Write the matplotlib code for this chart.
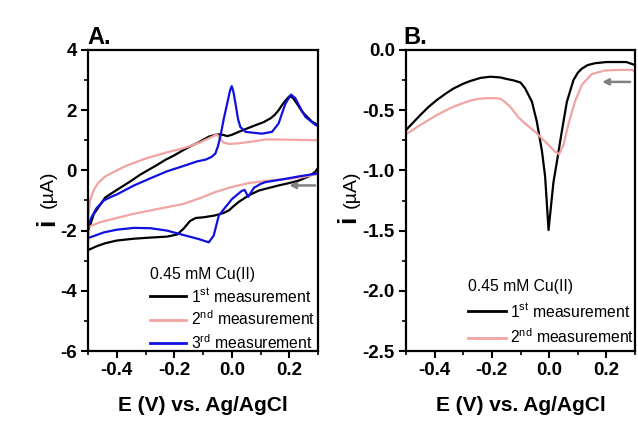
import matplotlib
matplotlib.use("Agg")
import matplotlib.pyplot as plt
from matplotlib.ticker import MultipleLocator

plt.rcParams['font.family'] = ['Liberation Sans', 'DejaVu Sans']
plt.rcParams['axes.unicode_minus'] = False
plt.rcParams['mathtext.fontset'] = 'custom'
plt.rcParams['mathtext.rm'] = 'Liberation Sans'

# ---------------- Panel A data (CV: cathodic branch 0.3 -> -0.5, then anodic -0.5 -> 0.3)
a1_x = [0.3, 0.29, 0.268, 0.233, 0.2, 0.163, 0.13, 0.094, 0.059, 0.04, 0.024, 0.005, -0.01, -0.03,
        -0.06, -0.1, -0.125, -0.145, -0.167, -0.19, -0.225, -0.28, -0.341, -0.4, -0.44, -0.47, -0.5,
        -0.5, -0.49, -0.48, -0.463, -0.44, -0.405, -0.375, -0.347, -0.32, -0.289, -0.26, -0.231, -0.2,
        -0.173, -0.145, -0.115, -0.08, -0.05,
        -0.03, -0.016, 0.0, 0.024, 0.05, 0.082, 0.11, 0.135, 0.15, 0.163, 0.175, 0.185, 0.2, 0.212,
        0.228, 0.245, 0.262, 0.279, 0.3]
a1_y = [0.08, -0.05, -0.2, -0.34, -0.42, -0.5, -0.58, -0.67, -0.83, -0.95, -1.05, -1.2, -1.33, -1.42,
        -1.5, -1.56, -1.58, -1.68, -1.93, -2.13, -2.2, -2.23, -2.27, -2.33, -2.42, -2.52, -2.65,
        -2.0, -1.75, -1.45, -1.22, -0.9, -0.68, -0.5, -0.33, -0.15, 0.02, 0.18, 0.35, 0.5,
        0.65, 0.8, 0.93, 1.12, 1.2,
        1.18, 1.14, 1.18, 1.28, 1.38, 1.5, 1.6, 1.73, 1.85, 2.0, 2.17, 2.3, 2.46, 2.42,
        2.2, 1.95, 1.78, 1.62, 1.5]

a2_x = [0.3, 0.25, 0.2, 0.15, 0.1, 0.06, 0.0, -0.057, -0.11, -0.167, -0.225, -0.283, -0.34, -0.4,
        -0.457, -0.487, -0.5,
        -0.5, -0.493, -0.48, -0.465, -0.44, -0.42, -0.4, -0.37, -0.34, -0.31, -0.28, -0.225, -0.167,
        -0.11, -0.068, -0.052, -0.04, -0.03, -0.01, 0.024, 0.08, 0.12, 0.2, 0.3]
a2_y = [-0.12, -0.22, -0.28, -0.32, -0.37, -0.42, -0.55, -0.72, -0.92, -1.11, -1.22, -1.33, -1.44, -1.58,
        -1.72, -1.83, -1.9,
        -1.6, -1.0, -0.65, -0.42, -0.2, -0.1, 0.0, 0.14, 0.25, 0.36, 0.45, 0.6, 0.74,
        0.93, 1.12, 1.2, 1.05, 0.93, 0.88, 0.9, 0.97, 1.03, 1.02, 1.0]

a3_x = [0.3, 0.233, 0.187, 0.117, 0.1, 0.077, 0.057, 0.045, 0.035, 0.02, 0.001, -0.022, -0.045, -0.063,
        -0.08, -0.115, -0.167, -0.225, -0.283, -0.341, -0.4, -0.445, -0.5,
        -0.5, -0.49, -0.47, -0.445, -0.42, -0.4, -0.37, -0.34, -0.28, -0.225, -0.167, -0.12, -0.09,
        -0.07, -0.057, -0.048, -0.04, -0.028, -0.016, -0.006, 0.0, 0.006, 0.013, 0.022, 0.03, 0.048,
        0.105, 0.14, 0.163, 0.175, 0.187, 0.206, 0.221, 0.24, 0.256, 0.29, 0.3]
a3_y = [-0.1, -0.2, -0.28, -0.39, -0.45, -0.58, -0.88, -0.65, -0.68, -0.8, -0.95, -1.22, -1.5, -2.17,
        -2.39, -2.28, -2.15, -2.0, -1.92, -1.91, -1.97, -2.06, -2.25,
        -1.9, -1.6, -1.25, -1.0, -0.88, -0.8, -0.65, -0.5, -0.25, -0.03, 0.15, 0.3, 0.36,
        0.45, 0.56, 0.8, 1.11, 1.7, 2.22, 2.65, 2.8, 2.6, 2.22, 1.7, 1.44, 1.28,
        1.22, 1.28, 1.56, 1.9, 2.22, 2.52, 2.4, 2.05, 1.78, 1.52, 1.47]

# ---------------- Panel B data
b1_x = [-0.5, -0.45, -0.42, -0.392, -0.36, -0.334, -0.3, -0.276, -0.24, -0.206, -0.17, -0.148, -0.125,
        -0.1, -0.084, -0.06, -0.043, -0.025, -0.014, -0.002, 0.015, 0.027, 0.044, 0.062, 0.085, 0.1,
        0.114, 0.135, 0.16, 0.2, 0.23, 0.27, 0.3]
b1_y = [-0.665, -0.54, -0.47, -0.415, -0.36, -0.32, -0.28, -0.258, -0.232, -0.222, -0.228, -0.241, -0.252,
        -0.27, -0.318, -0.43, -0.595, -0.84, -1.05, -1.495, -1.1, -0.93, -0.68, -0.43, -0.25, -0.19,
        -0.155, -0.125, -0.11, -0.1, -0.1, -0.1, -0.125]

b2_x = [-0.5, -0.45, -0.42, -0.392, -0.36, -0.334, -0.3, -0.276, -0.245, -0.217, -0.19, -0.171, -0.155,
        -0.136, -0.12, -0.107, -0.084, -0.049, -0.014, 0.021, 0.035, 0.05, 0.067, 0.09, 0.114, 0.149,
        0.195, 0.25, 0.289, 0.3]
b2_y = [-0.7, -0.623, -0.58, -0.54, -0.5, -0.471, -0.44, -0.421, -0.405, -0.4, -0.4, -0.405, -0.43,
        -0.471, -0.52, -0.56, -0.61, -0.68, -0.76, -0.845, -0.865, -0.79, -0.62, -0.43, -0.29, -0.2,
        -0.17, -0.165, -0.166, -0.18]

legend_title = "0.45 mM Cu(II)"
labels = ["1$^{\\mathrm{st}}$ measurement", "2$^{\\mathrm{nd}}$ measurement", "3$^{\\mathrm{rd}}$ measurement"]
colors = ["#000000", "#f2a3a3", "#1010e0"]
xlabel = "E (V) vs. Ag/AgCl"

W, H = 638, 423
fig = plt.figure(figsize=(W / 100, H / 100), dpi=100)
axA = fig.add_axes([88 / W, 1 - 351 / H, 230 / W, 301 / H])
axB = fig.add_axes([406 / W, 1 - 351 / H, 229 / W, 301 / H])

lw = 1.6
axA.plot(a1_x, a1_y, color=colors[0], lw=lw, label=labels[0])
axA.plot(a2_x, a2_y, color=colors[1], lw=lw, label=labels[1])
axA.plot(a3_x, a3_y, color=colors[2], lw=lw, label=labels[2])
axB.plot(b1_x, b1_y, color=colors[0], lw=lw, label=labels[0])
axB.plot(b2_x, b2_y, color=colors[1], lw=lw, label=labels[1])

axA.set_xlim(-0.5, 0.3)
axA.set_ylim(-6, 4)
axB.set_xlim(-0.5, 0.3)
axB.set_ylim(-2.5, 0.0)
axA.yaxis.set_minor_locator(MultipleLocator(1))
axB.yaxis.set_minor_locator(MultipleLocator(0.25))
axA.set_yticks([4, 2, 0, -2, -4, -6])
axA.set_yticklabels(["4", "2", "0", "-2", "-4", "-6"])
axB.set_yticks([0.0, -0.5, -1.0, -1.5, -2.0, -2.5])
axB.set_yticklabels(["0.0", "-0.5", "-1.0", "-1.5", "-2.0", "-2.5"])

for ax in (axA, axB):
    ax.set_xticks([-0.4, -0.2, 0.0, 0.2])
    ax.set_xticklabels(["-0.4", "-0.2", "0.0", "0.2"])
    ax.xaxis.set_minor_locator(MultipleLocator(0.1))
    ax.tick_params(which='major', direction='out', length=5, width=1.5, labelsize=13.5, pad=3)
    ax.tick_params(which='minor', direction='out', length=3, width=1.2)
    for t in ax.get_xticklabels() + ax.get_yticklabels():
        t.set_fontweight('bold')
    for s in ax.spines.values():
        s.set_linewidth(1.6)
    ax.set_xlabel(xlabel, fontsize=15, fontweight='bold', labelpad=12)

# y labels: large bold "i" followed by regular "(µA)"
fig.text(47 / W, 1 - 222 / H, "i", rotation=90, fontsize=19, fontweight='bold', ha='center', va='center')
fig.text(48 / W, 1 - 189 / H, "(µA)", rotation=90, fontsize=14, ha='center', va='center')
fig.text(348 / W, 1 - 219 / H, "i", rotation=90, fontsize=19, fontweight='bold', ha='center', va='center')
fig.text(351 / W, 1 - 189 / H, "(µA)", rotation=90, fontsize=14, ha='center', va='center')

# panel letters
fig.text(87 / W, 1 - 38 / H, "A.", fontsize=17, fontweight='bold', ha='left', va='center')
fig.text(403 / W, 1 - 38 / H, "B.", fontsize=17, fontweight='bold', ha='left', va='center')

# legends
legA = axA.legend(title=legend_title, loc='upper left', bbox_to_anchor=(62 / 230, 1 - 217 / 301),
                  frameon=False, fontsize=11.3, title_fontsize=11.3, handlelength=2.3,
                  handletextpad=0.3, labelspacing=0.3, borderpad=0, borderaxespad=0,
                  alignment='left')
legB = axB.legend(title=legend_title, loc='upper left', bbox_to_anchor=(62 / 229, 1 - 229 / 301),
                  frameon=False, fontsize=11.3, title_fontsize=11.3, handlelength=2.4,
                  handletextpad=0.3, labelspacing=0.5, borderpad=0, borderaxespad=0,
                  alignment='left')
for leg in (legA, legB):
    for ln in leg.get_lines():
        ln.set_linewidth(2.0)

# scan-direction arrows
arrow_kw = dict(arrowstyle='-|>', color='#808080', lw=1.8, mutation_scale=9, shrinkA=0, shrinkB=0)
axA.annotate("", xy=(0.2, -0.5), xytext=(0.29, -0.5), arrowprops=arrow_kw)
axB.annotate("", xy=(0.185, -0.265), xytext=(0.283, -0.265), arrowprops=arrow_kw)

fig.savefig("out.png", dpi=100)
